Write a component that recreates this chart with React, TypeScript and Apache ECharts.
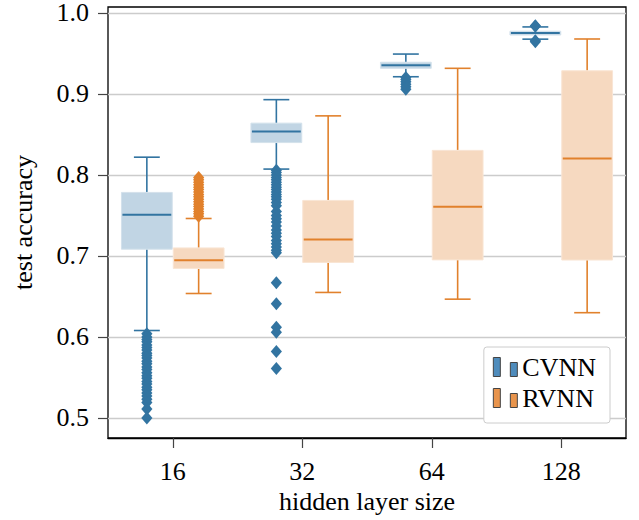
import React, { useEffect, useRef } from 'react';
import * as echarts from 'echarts';

const categories = ['16', '32', '64', '128'];
const yTicks = [0.5, 0.6, 0.7, 0.8, 0.9, 1.0];

// [lower whisker, Q1, median, Q3, upper whisker]
const cvnnBoxes = [
  [0.608, 0.7084, 0.7508, 0.7785, 0.822],
  [0.8073, 0.84, 0.8538, 0.864, 0.893],
  [0.9213, 0.9317, 0.9355, 0.9392, 0.9493],
  [0.9677, 0.9728, 0.9752, 0.9775, 0.9828],
];
const rvnnBoxes = [
  [0.6537, 0.6846, 0.6948, 0.71, 0.7463],
  [0.655, 0.692, 0.7204, 0.7686, 0.873],
  [0.6467, 0.6952, 0.7607, 0.8304, 0.9317],
  [0.63, 0.695, 0.8205, 0.9287, 0.9679],
];

const cvnnOutliers16 = [
  0.604, 0.6, 0.597, 0.594, 0.59, 0.587, 0.584, 0.58, 0.577, 0.574, 0.57, 0.567,
  0.563, 0.56, 0.556, 0.552, 0.549, 0.545, 0.542, 0.538, 0.535, 0.531, 0.527,
  0.523, 0.519, 0.511, 0.5,
];
const cvnnOutliers32 = [
  0.806, 0.803, 0.8, 0.797, 0.794, 0.791, 0.788, 0.785, 0.782, 0.779, 0.776,
  0.773, 0.77, 0.766, 0.762, 0.755, 0.75, 0.746, 0.742, 0.737, 0.732, 0.728,
  0.724, 0.719, 0.715, 0.711, 0.707, 0.704, 0.667, 0.641, 0.612, 0.606, 0.582,
  0.561,
];
const cvnnOutliers64 = [0.9205, 0.918, 0.915, 0.912, 0.909, 0.906];
const cvnnOutliers128 = [0.9843, 0.9836, 0.9656, 0.9646];
const rvnnOutliers16 = [
  0.749, 0.752, 0.755, 0.758, 0.761, 0.764, 0.767, 0.77, 0.773, 0.776, 0.779,
  0.782, 0.785, 0.788, 0.791, 0.794, 0.797,
];
const rvnnOutliers32: number[] = [];
const rvnnOutliers64: number[] = [];
const rvnnOutliers128: number[] = [];

const cvnnOutliers = [cvnnOutliers16, cvnnOutliers32, cvnnOutliers64, cvnnOutliers128];
const rvnnOutliers = [rvnnOutliers16, rvnnOutliers32, rvnnOutliers64, rvnnOutliers128];

const BLUE = '#3274a1';
const BLUE_FILL = '#c1d5e4';
const BLUE_EDGE = '#d3e1eb';
const ORANGE = '#e1812c';
const ORANGE_FILL = '#f6d9c0';
const ORANGE_EDGE = '#f9e5d4';
const FONT = '"Liberation Serif", "DejaVu Serif", serif';
const TEXT = '#000';

function boxRender(side: number, line: string, fill: string, edge: string) {
  return (_params: any, api: any) => {
    const xi = api.value(0);
    const bw = api.size([1, 0])[0];
    const med = api.coord([xi, api.value(3)]);
    const cx = med[0] + side * bw * 0.2;
    const half = bw * 0.2 - 0.5;
    const capHalf = bw * 0.1;
    const yMin = api.coord([xi, api.value(1)])[1];
    const yQ1 = api.coord([xi, api.value(2)])[1];
    const yQ3 = api.coord([xi, api.value(4)])[1];
    const yMax = api.coord([xi, api.value(5)])[1];
    const ls = { stroke: line, lineWidth: 1.6 };
    return {
      type: 'group',
      children: [
        { type: 'line', shape: { x1: cx, y1: yQ1, x2: cx, y2: yMin }, style: ls },
        { type: 'line', shape: { x1: cx, y1: yQ3, x2: cx, y2: yMax }, style: ls },
        { type: 'line', shape: { x1: cx - capHalf, y1: yMin, x2: cx + capHalf, y2: yMin }, style: ls },
        { type: 'line', shape: { x1: cx - capHalf, y1: yMax, x2: cx + capHalf, y2: yMax }, style: ls },
        {
          type: 'rect',
          shape: { x: cx - half, y: yQ3, width: half * 2, height: yQ1 - yQ3 },
          style: { fill, stroke: edge, lineWidth: 1 },
        },
        {
          type: 'line',
          shape: { x1: cx - half + 1, y1: med[1], x2: cx + half - 1, y2: med[1] },
          style: { stroke: line, lineWidth: 2 },
        },
      ],
    };
  };
}

function outlierRender(side: number, color: string) {
  return (_params: any, api: any) => {
    const p = api.coord([api.value(0), api.value(1)]);
    const bw = api.size([1, 0])[0];
    const x = p[0] + side * bw * 0.2;
    const w = 5.6;
    const h = 6.5;
    return {
      type: 'polygon',
      shape: { points: [[x, p[1] - h], [x + w, p[1]], [x, p[1] + h], [x - w, p[1]]] },
      style: { fill: color },
    };
  };
}

const LEGEND_ICON = 'path://M0,0h7v19h-7zM17,5h7v14h-7z';

export default function App() {
  const ref = useRef<HTMLDivElement>(null);
  useEffect(() => {
    if (!ref.current) return;
    const chart = echarts.init(ref.current, undefined, { renderer: 'svg' });
    const boxData = (arr: number[][]) => arr.map((b, i) => [i, ...b]);
    const outData = (arr: number[][]) => {
      const res: number[][] = [];
      arr.forEach((vals, i) => vals.forEach((v) => res.push([i, v])));
      return res;
    };
    chart.setOption({
      animation: false,
      textStyle: { fontFamily: FONT },
      grid: {
        left: 108,
        right: 13,
        top: 7,
        bottom: 82,
        show: true,
        borderColor: '#000',
        borderWidth: 1.3,
        backgroundColor: 'transparent',
        outerBoundsMode: 'none',
      },
      legend: {
        orient: 'vertical',
        right: 29,
        top: 347,
        padding: [7, 14, 12, 9],
        itemGap: 5,
        itemWidth: 24,
        itemHeight: 19,
        backgroundColor: '#fff',
        borderColor: '#cccccc',
        borderWidth: 1,
        borderRadius: 3,
        textStyle: { fontFamily: FONT, fontSize: 26, color: TEXT, lineHeight: 26 },
        data: [
          { name: 'CVNN', icon: LEGEND_ICON, itemStyle: { color: '#4f8cbc', borderColor: '#444', borderWidth: 1 } },
          { name: 'RVNN', icon: LEGEND_ICON, itemStyle: { color: '#e8944c', borderColor: '#444', borderWidth: 1 } },
        ],
      },
      xAxis: {
        type: 'category',
        data: categories,
        name: 'hidden layer size',
        nameLocation: 'middle',
        nameGap: 47,
        nameTextStyle: { fontFamily: FONT, fontSize: 26, color: TEXT },
        axisLine: { show: true, lineStyle: { color: '#000', width: 1.3 } },
        axisTick: { show: true, alignWithLabel: true, length: 10, lineStyle: { color: '#444', width: 1.2 } },
        axisLabel: { fontFamily: FONT, fontSize: 26, color: TEXT, margin: 20 },
        splitLine: { show: false },
      },
      yAxis: {
        type: 'value',
        min: 0.4753,
        max: 1.0074,
        name: 'test accuracy',
        nameLocation: 'middle',
        nameGap: 72,
        nameTextStyle: { fontFamily: FONT, fontSize: 26, color: TEXT },
        axisLine: { show: false },
        axisTick: { show: true, length: 10, customValues: yTicks, lineStyle: { color: '#444', width: 1.2 } },
        axisLabel: {
          fontFamily: FONT,
          fontSize: 26,
          lineHeight: 24,
          color: TEXT,
          margin: 19,
          customValues: yTicks,
          formatter: (v: number) => v.toFixed(1),
        },
        splitLine: { show: true, lineStyle: { color: '#cccccc', width: 1.3 } },
      },
      series: [
        {
          name: 'CVNN',
          type: 'custom',
          renderItem: boxRender(-1, BLUE, BLUE_FILL, BLUE_EDGE),
          encode: { x: 0, y: [1, 2, 3, 4, 5] },
          data: boxData(cvnnBoxes),
          z: 3,
        },
        {
          name: 'CVNN',
          type: 'custom',
          renderItem: outlierRender(-1, BLUE),
          encode: { x: 0, y: 1 },
          data: outData(cvnnOutliers),
          z: 4,
        },
        {
          name: 'RVNN',
          type: 'custom',
          renderItem: boxRender(1, ORANGE, ORANGE_FILL, ORANGE_EDGE),
          encode: { x: 0, y: [1, 2, 3, 4, 5] },
          data: boxData(rvnnBoxes),
          z: 3,
        },
        {
          name: 'RVNN',
          type: 'custom',
          renderItem: outlierRender(1, ORANGE),
          encode: { x: 0, y: 1 },
          data: outData(rvnnOutliers),
          z: 4,
        },
      ],
    });
    return () => chart.dispose();
  }, []);
  return <div ref={ref} style={{ width: 639, height: 520, position: 'absolute', left: 0, top: 0 }} />;
}
